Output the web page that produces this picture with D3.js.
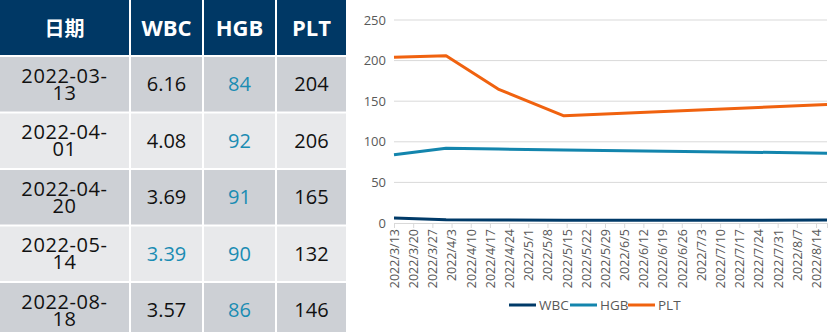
<!DOCTYPE html>
<html>
<head>
<meta charset="utf-8">
<script src="https://cdn.jsdelivr.net/npm/d3@7"></script>
<style>
  body { margin: 0; background: #fff; }
  svg { display: block; }
</style>
</head>
<body>
<script>
// data
var dates = ["2022-03-13", "2022-04-01", "2022-04-20", "2022-05-14", "2022-08-18"];
var wbc = [6.16, 4.08, 3.69, 3.39, 3.57];
var hgb = [84, 92, 91, 90, 86];
var plt = [204, 206, 165, 132, 146];
var headers = ["日期", "WBC", "HGB", "PLT"];
var yTicks = [0, 50, 100, 150, 200, 250];
var seriesNames = ["WBC", "HGB", "PLT"];
var seriesColors = ["#003a68", "#1385ad", "#f0620f"];
// cells drawn in the blue text colour
var blueCells = [[3, 1], [0, 2], [1, 2], [2, 2], [3, 2], [4, 2]];

var svgWidth = 831;
var svgHeight = 332;

var svg = d3.select("body")
  .append("svg")
  .attr("width", svgWidth)
  .attr("height", svgHeight);

var font = "'Open Sans', 'Noto Sans', sans-serif";

// ---------- table ----------
var colEdges = [0, 131, 204, 277, 348];
var headH = 55;
var rowTop = 57;
var rowPitch = 56.5;
var gap = 2;

var table = svg.append("g");

headers.forEach(function(h, i) {
  table.append("rect")
    .attr("x", colEdges[i])
    .attr("y", 0)
    .attr("width", colEdges[i + 1] - colEdges[i] - gap)
    .attr("height", headH)
    .attr("fill", "#003865");
  table.append("text")
    .attr("x", (colEdges[i] + colEdges[i + 1] - gap) / 2)
    .attr("y", headH / 2 + 1)
    .attr("dy", "0.35em")
    .attr("text-anchor", "middle")
    .attr("fill", "#fff")
    .attr("font-family", i == 0 ? "'Noto Sans CJK SC', sans-serif" : font)
    .attr("font-weight", "bold")
    .attr("font-size", i == 0 ? 20 : 22)
    .text(h);
});

dates.forEach(function(d, r) {
  var y0 = rowTop + r * rowPitch;
  var rowVals = [d, wbc[r].toFixed(2), hgb[r], plt[r]];
  rowVals.forEach(function(v, c) {
    table.append("rect")
      .attr("x", colEdges[c])
      .attr("y", y0)
      .attr("width", colEdges[c + 1] - colEdges[c] - gap)
      .attr("height", rowPitch - gap)
      .attr("fill", r % 2 == 0 ? "#cdd0d5" : "#e8e9eb");
    var isBlue = blueCells.some(function(b) { return b[0] == r && b[1] == c; });
    var cx = (colEdges[c] + colEdges[c + 1] - gap) / 2;
    var cy = y0 + (rowPitch - gap) / 2;
    if (c == 0) {
      // date wraps onto two lines
      table.append("text")
        .attr("x", cx).attr("y", cy - 1.5)
        .attr("text-anchor", "middle")
        .attr("fill", "#111")
        .attr("font-family", font)
        .attr("font-size", 20)
        .attr("letter-spacing", 0.6)
        .text(v.slice(0, 8));
      table.append("text")
        .attr("x", cx).attr("y", cy + 15.5)
        .attr("text-anchor", "middle")
        .attr("fill", "#111")
        .attr("font-family", font)
        .attr("font-size", 20)
        .attr("letter-spacing", 0.6)
        .text(v.slice(8));
    } else {
      table.append("text")
        .attr("x", cx).attr("y", cy).attr("dy", "0.35em")
        .attr("text-anchor", "middle")
        .attr("fill", isBlue ? "#1a8cb3" : "#111")
        .attr("font-family", font)
        .attr("font-size", 20)
        .text(v);
    }
  });
});

// ---------- line chart ----------
var parse = d3.timeParse("%Y-%m-%d");
var x = d3.scaleTime()
  .domain([parse(dates[0]), parse(dates[dates.length - 1])])
  .range([394, 827]);
var y = d3.scaleLinear()
  .domain([0, 250])
  .range([223, 20]);

var chart = svg.append("g");

// gridlines
chart.selectAll(".grid")
  .data(yTicks.slice(1))
  .enter()
  .append("line")
  .attr("x1", 394)
  .attr("x2", 827)
  .attr("y1", d => y(d))
  .attr("y2", d => y(d))
  .attr("stroke", "#d9d9d9")
  .attr("stroke-width", 1);

// y axis labels
var leftAxis = d3.axisLeft(y).tickValues(yTicks).tickSize(0).tickPadding(8);
var yG = chart.append("g")
  .attr("transform", "translate(394,0)")
  .call(leftAxis);
yG.select(".domain").remove();
yG.selectAll("text")
  .attr("fill", "#595959")
  .attr("font-family", font)
  .attr("font-size", 13);

// x axis, weekly ticks
var bottomAxis = d3.axisBottom(x)
  .ticks(d3.timeWeek.every(1))
  .tickFormat(d3.timeFormat("%Y/%-m/%-d"))
  .tickSize(5)
  .tickPadding(4);
var xG = chart.append("g")
  .attr("transform", "translate(0,223)")
  .call(bottomAxis);
xG.select(".domain").attr("stroke", "#d9d9d9");
xG.selectAll(".tick line").attr("stroke", "#d9d9d9");
xG.selectAll("text")
  .attr("fill", "#595959")
  .attr("font-family", font)
  .attr("font-size", 12.5)
  .attr("transform", "rotate(-90)")
  .attr("text-anchor", "end")
  .attr("x", -6)
  .attr("y", 0)
  .attr("dy", "0.35em");

var series = [wbc, hgb, plt];
var line = d3.line()
  .x((d, i) => x(parse(dates[i])))
  .y(d => y(d));

series.forEach(function(s, i) {
  chart.append("path")
    .datum(s)
    .attr("d", line)
    .attr("fill", "none")
    .attr("stroke", seriesColors[i])
    .attr("stroke-width", 3)
    .attr("stroke-linejoin", "round");
});

// legend
var legendX = [509, 570, 628];
seriesNames.forEach(function(n, i) {
  chart.append("line")
    .attr("x1", legendX[i])
    .attr("x2", legendX[i] + 27)
    .attr("y1", 305)
    .attr("y2", 305)
    .attr("stroke", seriesColors[i])
    .attr("stroke-width", 3);
  chart.append("text")
    .attr("x", legendX[i] + 30)
    .attr("y", 305)
    .attr("dy", "0.35em")
    .attr("fill", "#595959")
    .attr("font-family", font)
    .attr("font-size", 13.5)
    .text(n);
});
</script>
</body>
</html>
